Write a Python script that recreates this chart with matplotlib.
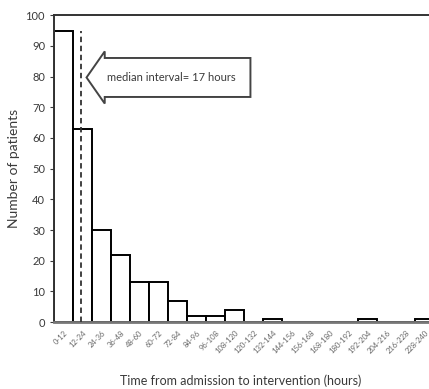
import numpy as np
import matplotlib
matplotlib.use("Agg")
import matplotlib.pyplot as plt
from matplotlib.patches import FancyArrow

# ---------------------------------------------------------------------------
# Data
# ---------------------------------------------------------------------------

bin_labels = ["0-12", "12-24", "24-36", "36-48", "48-60", "60-72", "72-84",
              "84-96", "96-108", "108-120", "120-132", "132-144", "144-156",
              "156-168", "168-180", "180-192", "192-204", "204-216", "216-228",
              "228-240"]
counts = [95, 63, 30, 22, 13, 13, 7, 2, 2, 4, 0, 1, 0, 0, 0, 0, 1, 0, 0, 1]
median_hours = 17
bin_width = 12

plt.rcParams["font.family"] = ["Lato", "DejaVu Sans"]
TXT = "#3a3a3a"

fig = plt.figure(figsize=(4.29, 3.89), dpi=100)
ax = fig.add_axes([0.126, 0.172, 0.886, 0.789])

edges = np.arange(len(counts)) * bin_width
ax.bar(edges, counts, width=bin_width, align="edge", facecolor="white",
       edgecolor="black", linewidth=1.4, zorder=2)

ax.axvline(median_hours, ymax=0.95, color="#333333", ls=(0, (3, 2)), lw=1.3, zorder=3)

ax.set_xlim(0, len(counts) * bin_width)
ax.set_ylim(0, 100)
ax.set_yticks(np.arange(0, 101, 10))
ax.set_xticks(edges + bin_width / 2)
ax.set_xticklabels(bin_labels, rotation=45, ha="right", rotation_mode="anchor",
                   fontsize=5.5, color="#666666")
ax.tick_params(axis="x", length=0, pad=5)
ax.tick_params(axis="y", labelsize=8, colors=TXT, length=3, width=0.8)

for side in ["left", "top"]:
    ax.spines[side].set_color("#333333")
    ax.spines[side].set_linewidth(1.4)
ax.spines["bottom"].set_color("#777777")
ax.spines["bottom"].set_linewidth(2.0)
ax.spines["right"].set_visible(False)

ax.set_ylabel("Number of patients", fontsize=10, color=TXT, labelpad=4)
ax.set_xlabel("Time from admission to intervention (hours)", fontsize=9,
              color=TXT, labelpad=14, x=0.49)

# Arrow callout pointing at the median line
arrow = FancyArrow(124, 79.7, -103.5, 0, width=12.7, head_width=17, head_length=11.5,
                   length_includes_head=True, facecolor="white",
                   edgecolor="#444444", linewidth=1.4, zorder=4)
ax.add_patch(arrow)
ax.text(74, 79.7, "median interval= 17 hours", fontsize=8, color=TXT,
        ha="center", va="center", zorder=5)

fig.savefig("out.png", dpi=100)
